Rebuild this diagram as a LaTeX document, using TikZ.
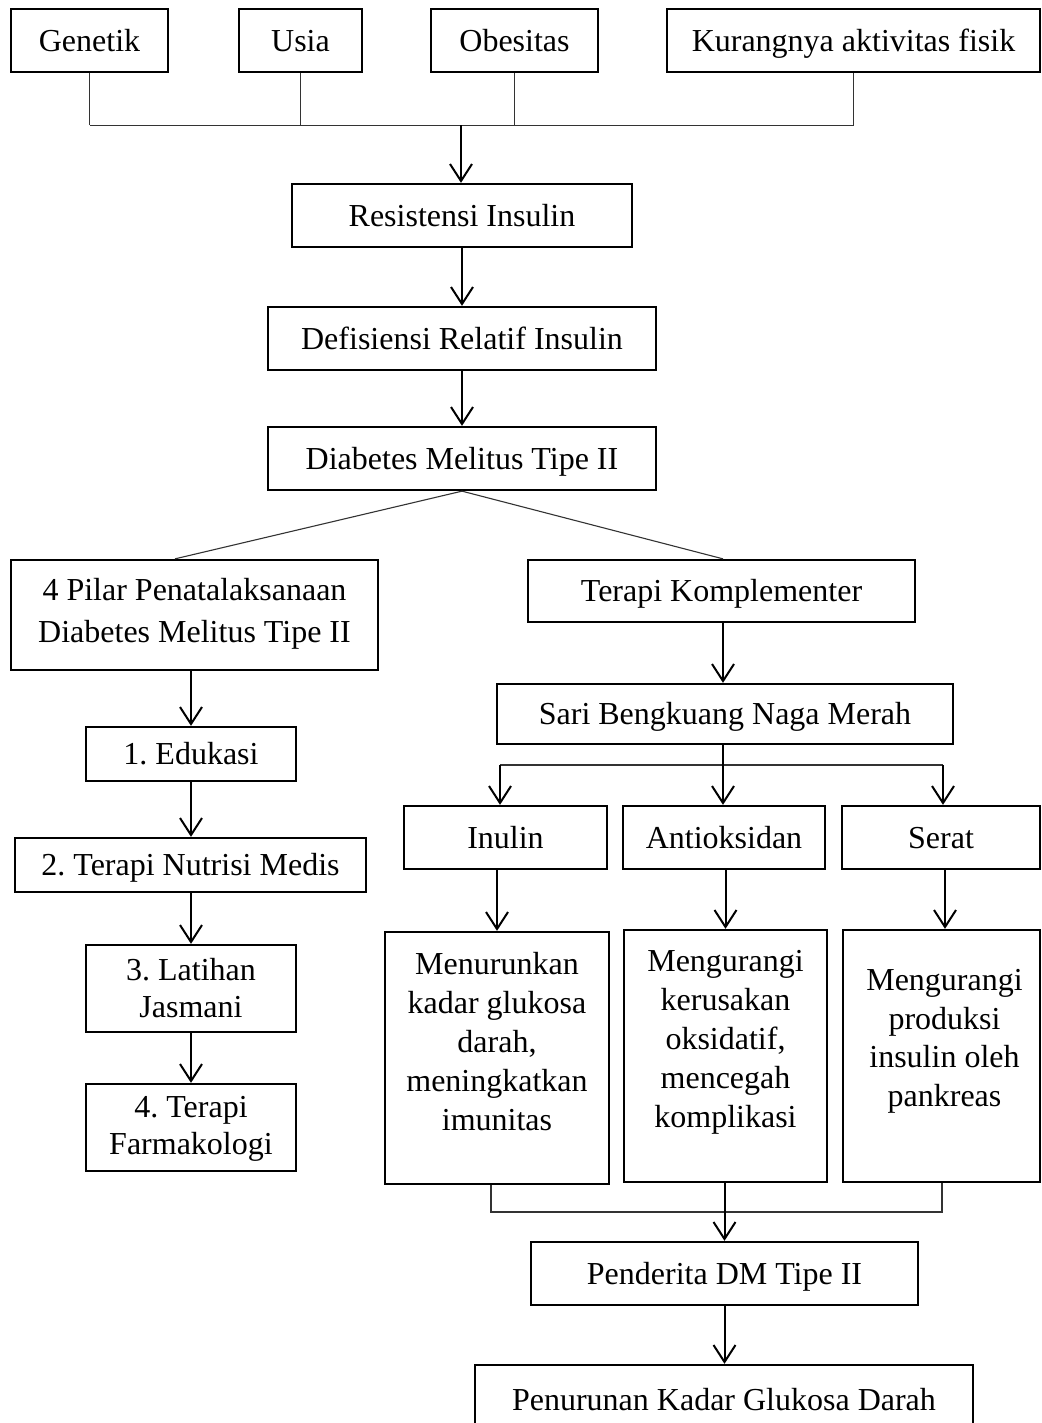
\documentclass[tikz,border=0pt]{standalone}
\usepackage{fontspec}
\setmainfont{Liberation Serif}
\usetikzlibrary{arrows.meta,calc}
\begin{document}
\frenchspacing
\begin{tikzpicture}[x=1pt,y=-1pt,
  every node/.style={font=\fontsize{32}{39}\selectfont\frenchspacing},
  box/.style={draw=black,line width=2.3pt,rectangle,inner sep=0pt,text height=22pt,text depth=0.8pt},
  tbox/.style={draw=black,line width=2.3pt,rectangle,inner sep=0pt},
  txt/.style={inner sep=0pt,align=center,anchor=north},
  arr/.style={line width=2pt,-{Straight Barb[length=17pt,width=22pt]}},
  thinl/.style={line width=1.1pt,draw=black!80},
]
\useasboundingbox (0,0) rectangle (1041,1423);
\clip (0,0) rectangle (1041,1423);
\fill[white] (0,0) rectangle (1041,1423);

% top row
\node[box,minimum width=157,minimum height=63] (gen) at (89.5,40.5) {Genetik};
\node[box,minimum width=123,minimum height=63] (usia) at (300.5,40.5) {Usia};
\node[box,minimum width=167,minimum height=63] (obes) at (514.5,40.5) {Obesitas};
\node[box,minimum width=373,minimum height=63] (kur) at (853.5,40.5) {Kurangnya aktivitas fisik};

% middle column
\node[box,minimum width=340,minimum height=63] (res) at (462,215.5) {Resistensi Insulin};
\node[box,minimum width=388,minimum height=63] (def) at (462,338.5) {Defisiensi Relatif Insulin};
\node[box,minimum width=388,minimum height=63] (dm) at (462,458.5) {Diabetes Melitus Tipe II};

% left column
\node[tbox,minimum width=367,minimum height=110] (pilar) at (194.5,615) {};
\node[txt,font=\fontsize{32}{42}\selectfont\frenchspacing] (tpilar) at (194.5,578) {4 Pilar Penatalaksanaan\\Diabetes Melitus Tipe II};
\node[box,minimum width=210,minimum height=54] (edu) at (191,754) {1. Edukasi};
\node[box,minimum width=351,minimum height=54] (nut) at (190.5,865) {2. Terapi Nutrisi Medis};
\node[tbox,minimum width=210,minimum height=87] (lat) at (191,988.5) {};
\node[txt,font=\fontsize{32}{37}\selectfont\frenchspacing] (tlat) at (191,958) {3. Latihan\\Jasmani};
\node[tbox,minimum width=210,minimum height=87] (farm) at (191,1127.5) {};
\node[txt,font=\fontsize{32}{37}\selectfont\frenchspacing] (tfarm) at (191,1096) {4. Terapi\\Farmakologi};

% right column
\node[box,minimum width=387,minimum height=62] (kom) at (721.5,591) {Terapi Komplementer};
\node[box,minimum width=456,minimum height=60] (sari) at (725,714) {Sari Bengkuang Naga Merah};
\node[box,minimum width=203,minimum height=63] (inu) at (505.5,837.5) {Inulin};
\node[box,minimum width=202,minimum height=63] (anti) at (724,837.5) {Antioksidan};
\node[box,minimum width=198,minimum height=63] (ser) at (941,837.5) {Serat};

\node[tbox,minimum width=224,minimum height=252] (ef1) at (497,1058) {};
\node[txt,font=\fontsize{32}{39}\selectfont] (tef1) at (497,952) {Menurunkan\\kadar glukosa\\darah,\\meningkatkan\\imunitas};
\node[tbox,minimum width=203,minimum height=252] (ef2) at (725.5,1056) {};
\node[txt,font=\fontsize{32}{39}\selectfont] (tef2) at (725.5,950) {Mengurangi\\kerusakan\\oksidatif,\\mencegah\\komplikasi};
\node[tbox,minimum width=197,minimum height=252] (ef3) at (941.5,1056) {};
\node[txt,font=\fontsize{32}{38.7}\selectfont] (tef3) at (944.5,969) {Mengurangi\\produksi\\insulin oleh\\pankreas};

\node[box,minimum width=387,minimum height=63] (pend) at (724.5,1273.5) {Penderita DM Tipe II};
\node[box,minimum width=498,minimum height=70] (pen) at (724,1400) {Penurunan Kadar Glukosa Darah};

% top join
\coordinate (jt) at (461,125.5);
\draw[thinl] (gen.south) -- (gen.south |- jt);
\draw[thinl] (usia.south) -- (usia.south |- jt);
\draw[thinl] (obes.south) -- (obes.south |- jt);
\draw[thinl] (kur.south) -- (kur.south |- jt);
\draw[thinl] (gen.south |- jt) -- (kur.south |- jt);
\draw[arr] (jt) -- (jt |- res.north);

% middle chain
\draw[arr] (res.south) -- (def.north);
\draw[arr] (def.south) -- (dm.north);

% split
\draw[thinl] (dm.south) -- ($(pilar.north)+(-19.5,0)$);
\draw[thinl] (dm.south) -- ($(kom.north)+(1.5,0)$);

% left chain
\draw[arr] (pilar.south -| edu.north) -- (edu.north);
\draw[arr] (edu.south) -- (edu.south |- nut.north);
\draw[arr] (nut.south -| lat.north) -- (lat.north);
\draw[arr] (lat.south) -- (farm.north);

% right chain
\draw[arr] (kom.south -| 723,0) -- (723,0 |- sari.north);
\coordinate (bl) at (500,765);
\coordinate (bm) at (723,765);
\coordinate (br) at (943,765);
\draw[thinl] (bl) -- (br);
\draw[arr] (sari.south -| bm) -- (bm |- anti.north);
\draw[arr] (bl) -- (bl |- inu.north);
\draw[arr] (br) -- (br |- ser.north);

\draw[arr] (inu.south -| ef1.north) -- (ef1.north);
\draw[arr] (anti.south -| ef2.north) -- (ef2.north);
\draw[arr] ($(ser.south)+(4,0)$) -- ($(ser.south |- ef3.north)+(4,0)$);

% bottom join
\coordinate (jl) at (491,1212);
\coordinate (jr) at (942,1212);
\draw[thinl] (jl |- ef1.south) -- (jl) -- (jr) -- (jr |- ef3.south);
\draw[arr] (ef2.south -| pend.north) -- (pend.north);
\draw[arr] (pend.south) -- (pend.south |- pen.north);
\end{tikzpicture}
\end{document}
